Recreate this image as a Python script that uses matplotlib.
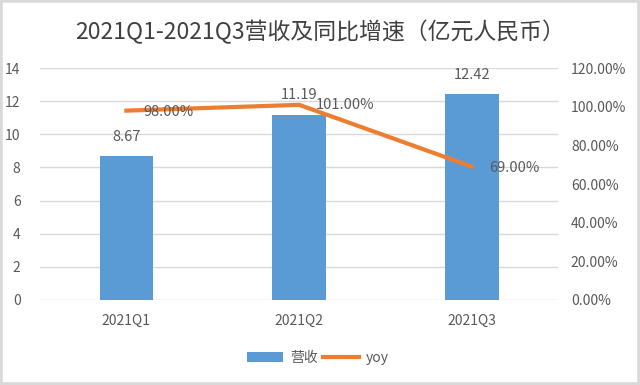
import matplotlib
matplotlib.use("Agg")
import matplotlib.pyplot as plt
from matplotlib.patches import Rectangle
from matplotlib.ticker import FuncFormatter

plt.rcParams['font.family'] = ['Noto Sans CJK SC', 'DejaVu Sans']

quarters = ['2021Q1', '2021Q2', '2021Q3']
revenue = [8.67, 11.19, 12.42]
yoy = [98.0, 101.0, 69.0]

bar_color = '#5B9BD5'
line_color = '#ED7D31'
text_color = '#595959'
grid_color = '#D9D9D9'

fig = plt.figure(figsize=(6.4, 3.85), dpi=100)
ax = fig.add_axes([0.0625, 0.221, 0.81, 0.602])
ax2 = ax.twinx()

x = range(len(quarters))
ax.bar(x, revenue, width=0.31, color=bar_color, zorder=2, label='营收')
ax.set_ylim(0, 14)
ax.set_yticks(range(0, 15, 2))
ax.set_xlim(-0.5, 2.5)
ax.set_xticks(list(x))
ax.set_xticklabels(quarters)
ax.grid(axis='y', color=grid_color, linewidth=1, zorder=0)
ax.set_axisbelow(True)

for i, v in enumerate(revenue):
    ax.annotate('%.2f' % v, (i, v), xytext=(0, 14), textcoords='offset points',
                ha='center', va='center', fontsize=10.5, color=text_color)

ax2.plot(x, yoy, color=line_color, linewidth=3, label='yoy', zorder=3)
ax2.set_ylim(0, 120)
ax2.set_yticks(range(0, 121, 20))
ax2.yaxis.set_major_formatter(FuncFormatter(lambda v, p: '%.2f%%' % v))
offsets = [(12, -1), (12, 0), (12, -1)]
for i, v in enumerate(yoy):
    ax2.annotate('%.2f%%' % v, (i, v), xytext=offsets[i], textcoords='offset points',
                 ha='left', va='center', fontsize=10.5, color=text_color)

for a in (ax, ax2):
    for s in a.spines.values():
        s.set_visible(False)
    a.tick_params(length=0, labelsize=10, colors=text_color)
ax.tick_params(axis='x', pad=10)
ax.tick_params(axis='y', pad=14)
ax2.tick_params(axis='y', pad=9)
ax.set_zorder(ax2.get_zorder() - 1)
ax.patch.set_visible(False)
ax2.patch.set_visible(False)

fig.text(0.5, 0.917, '2021Q1-2021Q3营收及同比增速（亿元人民币）', ha='center', va='center',
         fontsize=16.5, color='#404040')

h1, l1 = ax.get_legend_handles_labels()
h2, l2 = ax2.get_legend_handles_labels()
fig.legend(h1 + h2, l1 + l2, loc='center', bbox_to_anchor=(0.497, 0.07), ncol=2,
           frameon=False, fontsize=10, labelcolor=text_color, handlelength=2.6,
           columnspacing=0.4, handletextpad=0.5)

fig.patches.append(Rectangle((0, 0), 1, 1, transform=fig.transFigure, fill=False,
                             edgecolor='#D9D9D9', linewidth=4))

fig.savefig('out.png', dpi=100)
